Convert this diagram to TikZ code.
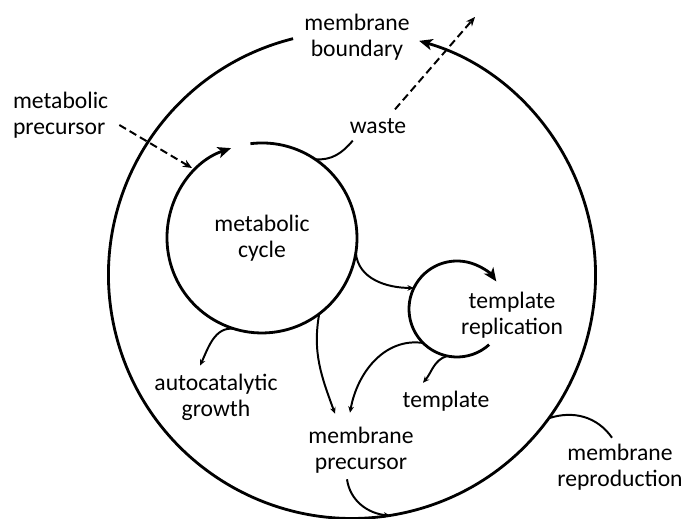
\documentclass[tikz,border=0pt]{standalone}
\usepackage{fontspec}
\setmainfont{Carlito}
\usetikzlibrary{arrows.meta}
\begin{document}
\begin{tikzpicture}[x=0.025cm, y=0.025cm, font=\fontsize{16.8}{18.6}\selectfont]
        \tikzstyle{ring}=[circle, inner sep=0pt, outer sep=0pt, align=center]
        \tikzstyle{word}=[align=center, inner sep=2pt]
        \tikzstyle{wall}=[line width=2pt, -{Stealth[length=9.5pt, width=8pt, inset=2.5pt]}]
        \tikzstyle{twig}=[line width=1.4pt]
        \tikzstyle{flow}=[twig, -{Stealth[length=4.5pt, width=4pt]}]
        \tikzstyle{leak}=[line width=1.4pt, dash pattern=on 5.5pt off 3pt, -{Stealth[length=6.5pt, width=5.5pt]}]
        \useasboundingbox (0,0) rectangle (687,519);
        \node[ring, minimum size=12.175cm] (boundring) at (352,244) {};
        \node[ring, minimum size=4.75cm] (cycle) at (262,281) {metabolic\\cycle};
        \node[ring, minimum size=2.4cm] (tempring) at (457,210) {};
        \node[word] (boundary) at (357,482) {membrane\\boundary};
        \node[word] (waste) at (378,393) {waste};
        \node[word, anchor=west, align=left] (precursor) at (10,404) {metabolic\\precursor};
        \node[word] (replication) at (512,204) {template\\replication};
        \node[word] (template) at (446,118) {template};
        \node[word] (growth) at (216,122) {autocatalytic\\growth};
        \node[word] (mprec) at (361,69) {membrane\\precursor};
        \node[word] (reproduction) at (620,52) {membrane\\reproduction};
        \coordinate (feed) at (192,351);
        \coordinate (vent) at (475,502);
        \draw[wall] (boundring.104) arc[start angle=104, end angle=434, radius=243.5];
        \draw[wall] (cycle.97) arc[start angle=97, end angle=-251, radius=95];
        \draw[wall] (tempring.-48) arc[start angle=-48, end angle=-325, radius=48];
        \draw[leak] ([shift={(8,-10)}]precursor.east) -- (feed);
        \draw[leak] ([shift={(17,6)}]waste.north) -- (vent);
        \draw[twig] (cycle.56) to[out=-5, in=230] ([shift={(6,-4)}]waste.south west);
        \draw[flow] (cycle.-107) to[out=172, in=65] ([shift={(-16,5)}]growth.north);
        \draw[flow] (cycle.-53) to[out=-100, in=110] ([shift={(-26,10)}]mprec.north);
        \draw[flow] (cycle.-9) to[out=-85, in=180] (tempring.154);
        \draw[flow] (tempring.-135) to[out=172, in=80] ([shift={(-11,11)}]mprec.north);
        \draw[flow] (tempring.-102) to[out=198, in=50] ([shift={(-23,5)}]template.north);
        \draw[flow] ([shift={(-14,-3)}]mprec.south) to[out=-82, in=175] (boundring.-81);
        \draw[twig] (boundring.-36) to[out=18, in=125] ([shift={(-8,3)}]reproduction.north);
    \end{tikzpicture}
\end{document}
